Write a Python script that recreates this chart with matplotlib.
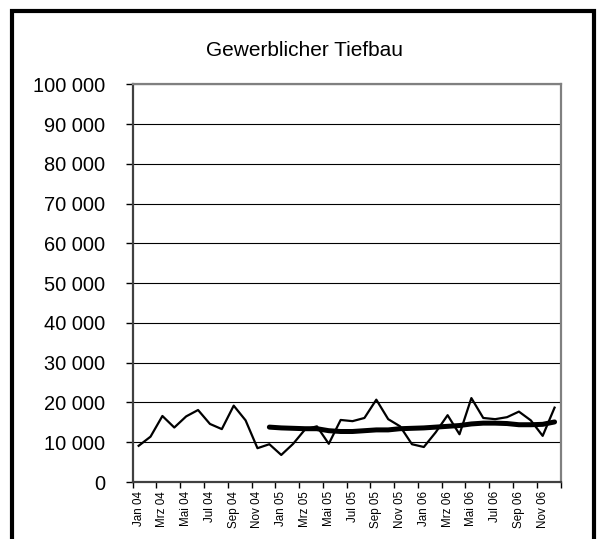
import matplotlib
matplotlib.use("Agg")
import matplotlib.pyplot as plt
from matplotlib.ticker import FuncFormatter, FixedLocator
from matplotlib.patches import Rectangle

plt.rcParams['font.family'] = ['Liberation Sans', 'DejaVu Sans']

title = "Gewerblicher Tiefbau"
months = ["Jan", "Feb", "Mrz", "Apr", "Mai", "Jun", "Jul", "Aug", "Sep", "Okt", "Nov", "Dez"]
years = ["04", "05", "06"]
categories = [f"{m} {y}" for y in years for m in months]

monthly = [9100, 11400, 16600, 13700, 16500, 18100, 14600, 13300, 19200, 15500, 8500, 9500,
           6800, 9600, 13200, 14000, 9600, 15600, 15300, 16100, 20700, 15800, 14000, 9500,
           8800, 12500, 16800, 12000, 21100, 16100, 15800, 16300, 17700, 15500, 11600, 18700]

moving_avg = [None] * 11 + [13800, 13600, 13500, 13400, 13400, 12900, 12700, 12700, 12900,
                            13100, 13100, 13400, 13500, 13600, 13800, 14000, 14200, 14600,
                            14800, 14800, 14700, 14400, 14400, 14500, 15100]

W, H = 598, 539
fig = plt.figure(figsize=(W / 100, H / 100), dpi=100)

# outer frame
fig.patches.append(Rectangle((12 / W, -0.05), (594 - 12) / W, 1.05 - 11 / H,
                             transform=fig.transFigure, fill=False,
                             edgecolor='black', linewidth=3.0))

ax = fig.add_axes([132.7 / W, 1 - 482 / H, (560.5 - 132.7) / W, (482 - 84.3) / H])

x = list(range(len(categories)))
ax.plot(x, monthly, color='black', linewidth=1.6, zorder=3)
ma_x = [i for i, v in zip(x, moving_avg) if v is not None]
ma_y = [v for v in moving_avg if v is not None]
ax.plot(ma_x, ma_y, color='black', linewidth=3.6, solid_capstyle='round', zorder=4)

ax.set_xlim(-0.5, len(categories) - 0.5)
ax.set_ylim(0, 100000)

ax.yaxis.set_major_locator(FixedLocator(range(0, 100001, 10000)))
ax.yaxis.set_major_formatter(FuncFormatter(lambda v, p: f"{int(v):,}".replace(",", " ")))
ax.grid(axis='y', color='black', linewidth=0.8, zorder=1)
ax.tick_params(axis='y', direction='out', length=5, width=1, pad=15, labelsize=14.4,
               color='black')

major_x = [i - 0.5 for i in range(0, len(categories) + 1, 2)]
ax.xaxis.set_major_locator(FixedLocator(major_x))
ax.xaxis.set_major_formatter(FuncFormatter(lambda v, p: ""))
ax.xaxis.set_minor_locator(FixedLocator(list(range(0, len(categories), 2))))
ax.set_xticks(list(range(0, len(categories), 2)), minor=True)
ax.set_xticklabels(categories[::2], minor=True, rotation=90, fontsize=8.4)
ax.tick_params(axis='x', which='major', direction='out', length=4, width=1, color='black')
ax.tick_params(axis='x', which='minor', length=0, pad=6.5)

for s in ['left', 'bottom']:
    ax.spines[s].set_color('#404040')
    ax.spines[s].set_linewidth(1.6)
for s in ['top', 'right']:
    ax.spines[s].set_color('#808080')
    ax.spines[s].set_linewidth(1.6)

fig.text(305 / W, 1 - 56 / H, title, ha='center', va='baseline', fontsize=15)

fig.savefig("out.png", dpi=100)
